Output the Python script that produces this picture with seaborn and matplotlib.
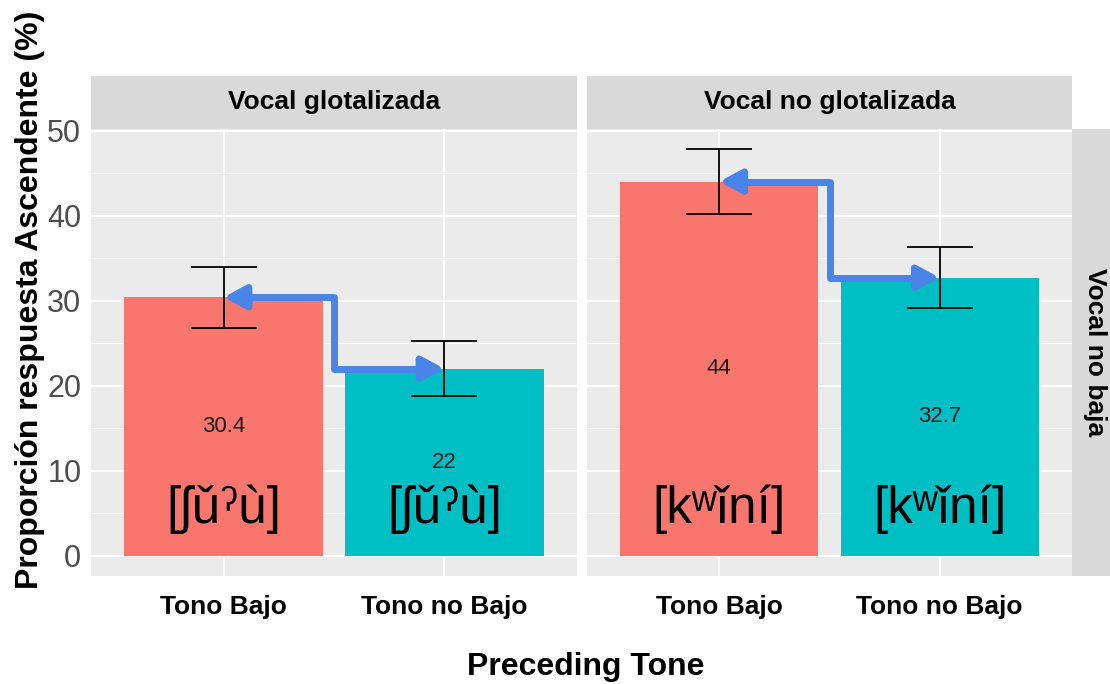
import numpy as np
import pandas as pd
import seaborn as sns
import matplotlib.pyplot as plt
from matplotlib.patches import FancyArrowPatch
from matplotlib.path import Path

# data
tonos = ["Tono Bajo", "Tono no Bajo"]
vocales = ["Vocal glotalizada", "Vocal no glotalizada"]
prop_glot = [30.4, 22.0]
prop_noglot = [44.0, 32.7]
err_glot = [3.6, 3.2]
err_noglot = [3.8, 3.6]
etiquetas = ["[ʃǔˀù]", "[kʷǐní]"]
fila = "Vocal no baja"
colores = ["#F8766D", "#00BFC4"]

df = pd.DataFrame({
    "vocal": np.repeat(vocales, 2),
    "tono": tonos * 2,
    "prop": prop_glot + prop_noglot,
    "err": err_glot + err_noglot,
})

sns.set_theme(style="darkgrid")
plt.rcParams['font.family'] = ['Liberation Sans', 'DejaVu Sans']
plt.rcParams['text.color'] = 'black'

fig = plt.figure(figsize=(11.1, 6.84), dpi=100)

W, H = 1110, 684
def box(x0, y0, x1, y1):
    return [x0 / W, 1 - y1 / H, (x1 - x0) / W, (y1 - y0) / H]

paneles = [(91, 577), (587, 1072)]
ytop, ybot = 129, 576
azul = "#4A84E6"

for i, (vocal, (x0, x1)) in enumerate(zip(vocales, paneles)):
    ax = fig.add_axes(box(x0, ytop, x1, ybot))
    sub = df[df["vocal"] == vocal]
    sns.barplot(data=sub, x="tono", y="prop", hue="tono", palette=colores,
                saturation=1, linewidth=0, width=0.9, legend=False,
                errorbar=None, ax=ax, zorder=2)
    ax.errorbar(range(len(sub)), sub["prop"], yerr=sub["err"], fmt="none",
                ecolor="black", elinewidth=1.3, capsize=24, capthick=1.3, zorder=4)
    for j, v in enumerate(sub["prop"]):
        ax.text(j, v / 2, f"{v:g}", ha="center", va="center", fontsize=16,
                color="#1A1A1A", zorder=5)
        ax.text(j, 5.5, etiquetas[i], ha="center", va="center", fontsize=37,
                color="black", family=['Liberation Sans', 'DejaVu Sans'], zorder=5)

    # step arrow between the two bar tops
    p = list(sub["prop"])
    path = Path([(0, p[0]), (0.5, p[0]), (0.5, p[1]), (1, p[1])])
    arr = FancyArrowPatch(path=path, arrowstyle="<|-|>,head_length=13,head_width=7",
                          mutation_scale=1, color=azul, lw=5, joinstyle="round",
                          capstyle="round", shrinkA=0, shrinkB=0, zorder=6)
    ax.add_patch(arr)

    ax.set_facecolor("#EBEBEB")
    ax.set_xlim(-0.6, 1.6)
    ax.set_ylim(-2.39, 50.19)
    ax.set_yticks([0, 10, 20, 30, 40, 50])
    ax.set_yticks([5, 15, 25, 35, 45], minor=True)
    ax.grid(which="major", color="white", lw=1.4, zorder=0)
    ax.grid(which="minor", axis="y", color="white", lw=0.7, zorder=0)
    ax.set_axisbelow(True)
    for s in ax.spines.values():
        s.set_visible(False)
    ax.set_xlabel("")
    ax.set_ylabel("")
    ax.tick_params(axis="x", length=2, color="#333333", labelsize=19, pad=12,
                   labelcolor="black")
    for t in ax.get_xticklabels():
        t.set_fontweight("bold")
    if i == 0:
        ax.tick_params(axis="y", which="major", length=4, width=1.1, color="#333333",
                       labelsize=22, labelcolor="#4D4D4D", pad=3)
        for t in ax.get_yticklabels():
            t.set_family(['Liberation Sans Narrow', 'Liberation Sans', 'DejaVu Sans'])
    else:
        ax.tick_params(axis="y", which="both", left=False, labelleft=False)
    ax.tick_params(axis="y", which="minor", left=False)

    # facet strip
    st = fig.add_axes(box(x0, 76, x1, ytop))
    st.set_facecolor("#D9D9D9")
    st.set_xticks([])
    st.set_yticks([])
    for s in st.spines.values():
        s.set_visible(False)
    st.text(0.5, 0.5, vocal, ha="center", va="center", fontsize=19,
            fontweight="bold", color="black", transform=st.transAxes)

# right strip
rs = fig.add_axes(box(1072, ytop, 1110, ybot))
rs.set_facecolor("#D9D9D9")
rs.set_xticks([])
rs.set_yticks([])
for s in rs.spines.values():
    s.set_visible(False)
rs.text(0.6, 0.5, fila, rotation=-90, ha="center", va="center", fontsize=19,
        fontweight="bold", color="black", transform=rs.transAxes)

fig.text(30 / W, 1 - 300 / H, "Proporción respuesta Ascendente (%)", rotation=90,
         ha="center", va="center", fontsize=23, fontweight="bold")
fig.text(586 / W, 1 - 667 / H, "Preceding Tone", ha="center", va="center",
         fontsize=23, fontweight="bold")

fig.savefig("out.png", dpi=100)
